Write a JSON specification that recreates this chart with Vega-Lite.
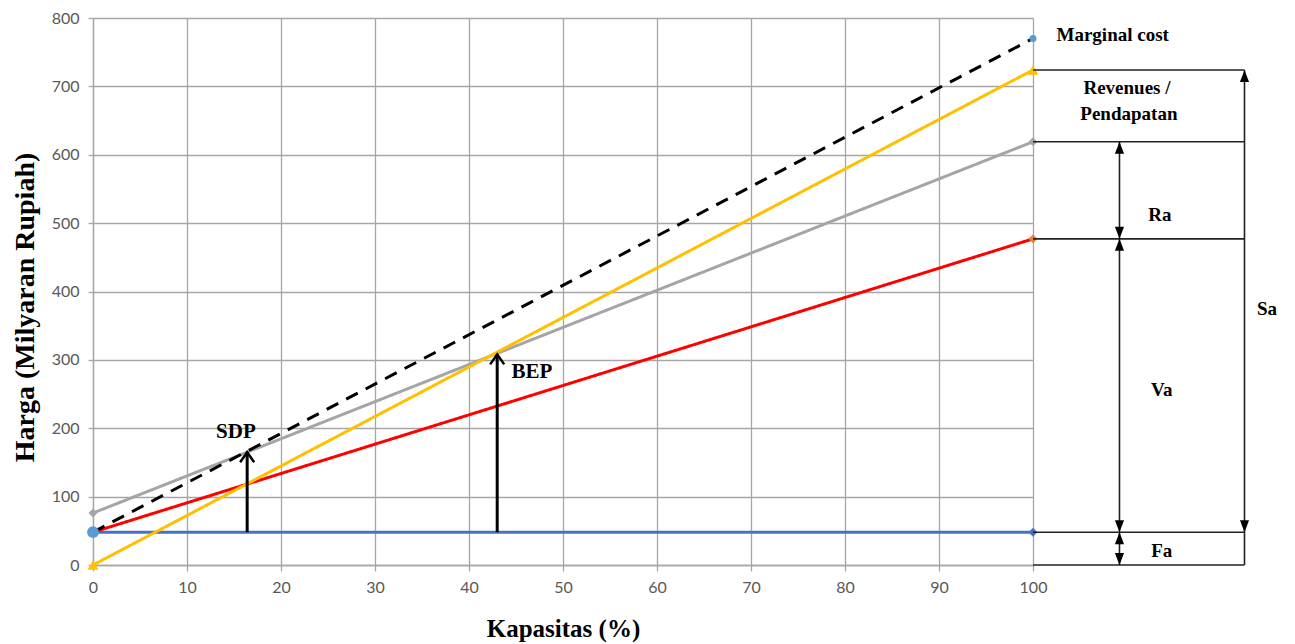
{
  "$schema": "https://vega.github.io/schema/vega-lite/v6.json",
  "width": 940,
  "height": 547,
  "autosize": {"type": "none"},
  "padding": {"left": 93, "top": 18, "right": 262, "bottom": 79},
  "background": "white",
  "config": {"view": {"stroke": null}, "font": "Liberation Serif"},
  "resolve": {"scale": {"color": "independent", "shape": "independent", "size": "independent", "strokeDash": "independent"}},
  "datasets": {
    "lines": [
      {"s": "Fixed cost", "x": 0, "y": 48}, {"s": "Fixed cost", "x": 100, "y": 48},
      {"s": "Total cost", "x": 0, "y": 48}, {"s": "Total cost", "x": 100, "y": 477},
      {"s": "Cost B", "x": 0, "y": 76}, {"s": "Cost B", "x": 100, "y": 619},
      {"s": "Revenue", "x": 0, "y": 0}, {"s": "Revenue", "x": 100, "y": 724},
      {"s": "Marginal cost", "x": 0, "y": 48}, {"s": "Marginal cost", "x": 100, "y": 770}
    ],
    "markers": [
      {"p": "F0", "x": 0, "y": 48}, {"p": "F100", "x": 100, "y": 48},
      {"p": "T100", "x": 100, "y": 477},
      {"p": "C0", "x": 0, "y": 76}, {"p": "C100", "x": 100, "y": 619},
      {"p": "R0", "x": 0, "y": 0}, {"p": "R100", "x": 100, "y": 724},
      {"p": "M100", "x": 100, "y": 770}
    ],
    "arrows": [
      {"name": "SDP", "x": 16.4, "y": 48, "y2": 165},
      {"name": "BEP", "x": 43, "y": 48, "y2": 308}
    ],
    "segments": [
      {"x": 100, "x2": 122.5, "y": 724, "y2": 724},
      {"x": 100, "x2": 122.5, "y": 619, "y2": 619},
      {"x": 100, "x2": 122.5, "y": 477, "y2": 477},
      {"x": 100, "x2": 122.5, "y": 48, "y2": 48},
      {"x": 100, "x2": 122.5, "y": 0, "y2": 0},
      {"x": 109.2, "x2": 109.2, "y": 619, "y2": 0},
      {"x": 122.5, "x2": 122.5, "y": 724, "y2": 0}
    ],
    "heads": [
      {"x": 109.2, "y": 619, "dir": "up"}, {"x": 109.2, "y": 477, "dir": "down"},
      {"x": 109.2, "y": 477, "dir": "up"}, {"x": 109.2, "y": 48, "dir": "down"},
      {"x": 109.2, "y": 48, "dir": "up"}, {"x": 109.2, "y": 0, "dir": "down"},
      {"x": 122.5, "y": 724, "dir": "up"}, {"x": 122.5, "y": 48, "dir": "down"}
    ],
    "labels": [
      {"t": "Revenues /", "x": 110.0, "y": 697, "g": "side"},
      {"t": "Pendapatan", "x": 110.2, "y": 659, "g": "side"},
      {"t": "Ra", "x": 113.5, "y": 512, "g": "side"},
      {"t": "Va", "x": 113.7, "y": 256, "g": "side"},
      {"t": "Sa", "x": 124.9, "y": 374, "g": "side"},
      {"t": "Fa", "x": 113.7, "y": 20.5, "g": "side"},
      {"t": "SDP", "x": 15.2, "y": 195, "g": "main"},
      {"t": "BEP", "x": 46.7, "y": 282, "g": "main"}
    ],
    "mc": [{"t": "Marginal cost", "x": 102.5, "y": 775}]
  },
  "layer": [
    {
      "data": {"name": "lines"},
      "mark": {"type": "line", "strokeWidth": 3, "clip": false},
      "encoding": {
        "x": {"field": "x", "type": "quantitative", "scale": {"domain": [0, 100], "nice": false},
          "axis": {"values": [0, 10, 20, 30, 40, 50, 60, 70, 80, 90, 100], "grid": true, "gridColor": "#a6a6a6", "gridWidth": 1.3,
            "domainColor": "#a6a6a6", "domainWidth": 1.3, "tickColor": "#a6a6a6", "tickSize": 6, "tickWidth": 1.3,
            "labelFont": "Lato", "labelFontSize": 16, "labelColor": "#595959", "labelPadding": 8, "labelFlush": false, "labelOverlap": false,
            "title": "Kapasitas (%)", "titleFont": "Liberation Serif", "titleFontSize": 25, "titleFontWeight": "bold", "titleColor": "#000000",
            "titleX": 470, "titleY": 63, "titleBaseline": "middle", "titleAlign": "center"}},
        "y": {"field": "y", "type": "quantitative", "scale": {"domain": [0, 800], "nice": false},
          "axis": {"values": [0, 100, 200, 300, 400, 500, 600, 700, 800], "grid": true, "gridColor": "#a6a6a6", "gridWidth": 1.3,
            "domainColor": "#a6a6a6", "domainWidth": 1.3, "tickColor": "#a6a6a6", "tickSize": 5, "tickWidth": 1.3,
            "labelFont": "Lato", "labelFontSize": 16, "labelColor": "#595959", "labelPadding": 9, "labelFlush": false, "labelOverlap": false,
            "title": "Harga (Milyaran Rupiah)", "titleFont": "Liberation Serif", "titleFontSize": 28, "titleFontWeight": "bold", "titleColor": "#000000",
            "titleX": -68, "titleY": 289, "titleAngle": -90, "titleBaseline": "middle", "titleAlign": "center"}},
        "color": {"field": "s", "type": "nominal", "legend": null,
          "scale": {"domain": ["Fixed cost", "Total cost", "Cost B", "Revenue", "Marginal cost"], "range": ["#4472C4", "#FF0000", "#A5A5A5", "#FFC000", "#000000"]}},
        "strokeDash": {"field": "s", "type": "nominal", "legend": null,
          "scale": {"domain": ["Fixed cost", "Total cost", "Cost B", "Revenue", "Marginal cost"], "range": [[1, 0], [1, 0], [1, 0], [1, 0], [13, 9]]}}
      }
    },
    {
      "data": {"name": "markers"},
      "mark": {"type": "point", "filled": true, "opacity": 1, "clip": false},
      "encoding": {
        "x": {"field": "x", "type": "quantitative", "scale": {"domain": [0, 100], "nice": false}},
        "y": {"field": "y", "type": "quantitative", "scale": {"domain": [0, 800], "nice": false}},
        "color": {"field": "p", "type": "nominal", "legend": null,
          "scale": {"domain": ["F0", "F100", "T100", "C0", "C100", "R0", "R100", "M100"], "range": ["#5B9BD5", "#4472C4", "#ED7D31", "#A5A5A5", "#A5A5A5", "#FFC000", "#FFC000", "#5B9BD5"]}},
        "shape": {"field": "p", "type": "nominal", "legend": null,
          "scale": {"domain": ["F0", "F100", "T100", "C0", "C100", "R0", "R100", "M100"], "range": ["circle", "diamond", "diamond", "diamond", "diamond", "triangle-up", "triangle-up", "circle"]}},
        "size": {"field": "p", "type": "nominal", "legend": null,
          "scale": {"type": "ordinal", "domain": ["F0", "F100", "T100", "C0", "C100", "R0", "R100", "M100"], "range": [140, 80, 80, 80, 80, 120, 120, 50]}}
      }
    },
    {
      "data": {"name": "arrows"},
      "mark": {"type": "rule", "strokeWidth": 3, "color": "#000000", "clip": false},
      "encoding": {
        "x": {"field": "x", "type": "quantitative", "scale": {"domain": [0, 100], "nice": false}},
        "y": {"field": "y", "type": "quantitative", "scale": {"domain": [0, 800], "nice": false}},
        "y2": {"field": "y2"}
      }
    },
    {
      "data": {"name": "arrows"},
      "mark": {"type": "point", "filled": false, "stroke": "#000000", "strokeWidth": 2.5, "opacity": 1, "size": 400, "shape": "M-0.7,1L0,0L0.7,1", "clip": false},
      "encoding": {
        "x": {"field": "x", "type": "quantitative", "scale": {"domain": [0, 100], "nice": false}},
        "y": {"field": "y2", "type": "quantitative", "scale": {"domain": [0, 800], "nice": false}}
      }
    },
    {
      "data": {"name": "segments"},
      "mark": {"type": "rule", "strokeWidth": 1.6, "color": "#222222", "clip": false},
      "encoding": {
        "x": {"field": "x", "type": "quantitative", "scale": {"domain": [0, 100], "nice": false}},
        "x2": {"field": "x2"},
        "y": {"field": "y", "type": "quantitative", "scale": {"domain": [0, 800], "nice": false}},
        "y2": {"field": "y2"}
      }
    },
    {
      "data": {"name": "heads"},
      "mark": {"type": "point", "filled": true, "opacity": 1, "color": "#000000", "size": 576, "clip": false},
      "encoding": {
        "x": {"field": "x", "type": "quantitative", "scale": {"domain": [0, 100], "nice": false}},
        "y": {"field": "y", "type": "quantitative", "scale": {"domain": [0, 800], "nice": false}},
        "shape": {"field": "dir", "type": "nominal", "legend": null,
          "scale": {"domain": ["up", "down"], "range": ["M0,0L-0.38,1L0.38,1Z", "M0,0L-0.38,-1L0.38,-1Z"]}}
      }
    },
    {
      "data": {"name": "labels"},
      "transform": [{"filter": "datum.g == 'side'"}],
      "mark": {"type": "text", "font": "Liberation Serif", "fontWeight": "bold", "fontSize": 19, "align": "center", "baseline": "middle", "color": "#000000", "clip": false},
      "encoding": {
        "x": {"field": "x", "type": "quantitative", "scale": {"domain": [0, 100], "nice": false}},
        "y": {"field": "y", "type": "quantitative", "scale": {"domain": [0, 800], "nice": false}},
        "text": {"field": "t"}
      }
    },
    {
      "data": {"name": "labels"},
      "transform": [{"filter": "datum.g == 'main'"}],
      "mark": {"type": "text", "font": "Liberation Serif", "fontWeight": "bold", "fontSize": 21, "align": "center", "baseline": "middle", "color": "#000000", "clip": false},
      "encoding": {
        "x": {"field": "x", "type": "quantitative", "scale": {"domain": [0, 100], "nice": false}},
        "y": {"field": "y", "type": "quantitative", "scale": {"domain": [0, 800], "nice": false}},
        "text": {"field": "t"}
      }
    },
    {
      "data": {"name": "mc"},
      "mark": {"type": "text", "font": "Liberation Serif", "fontWeight": "bold", "fontSize": 19, "align": "left", "baseline": "middle", "color": "#000000", "clip": false},
      "encoding": {
        "x": {"field": "x", "type": "quantitative", "scale": {"domain": [0, 100], "nice": false}},
        "y": {"field": "y", "type": "quantitative", "scale": {"domain": [0, 800], "nice": false}},
        "text": {"field": "t"}
      }
    }
  ]
}
